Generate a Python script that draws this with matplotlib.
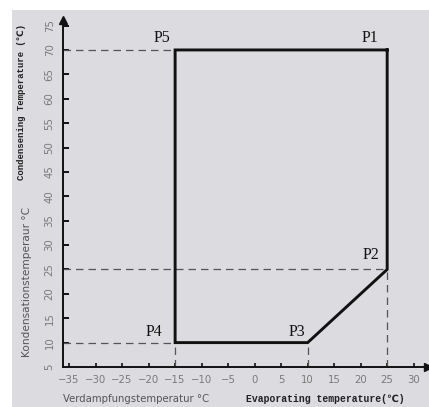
import matplotlib.pyplot as plt
from matplotlib.patches import Rectangle

# operating envelope corners
point_names = ['P1', 'P2', 'P3', 'P4', 'P5']
point_x = [25, 25, 10, -15, -15]
point_y = [70, 25, 10, 10, 70]

x_ticks = [-35, -30, -25, -20, -15, -10, -5, 0, 5, 10, 15, 20, 25, 30]
y_ticks = [5, 10, 15, 20, 25, 30, 35, 40, 45, 50, 55, 60, 65, 70, 75]

bg = '#dbdbe0'
fig = plt.figure(figsize=(4.29, 4.07), dpi=100)
fig.patch.set_facecolor('white')
fig.patches.append(Rectangle((12 / 429, 0), 1, 1 - 10 / 407, transform=fig.transFigure,
                             facecolor=bg, edgecolor='none', zorder=-10))

ax = fig.add_axes([63 / 429, 40 / 407, 365 / 429, 347 / 407])
ax.set_facecolor(bg)
ax.set_xlim(-36.15, 32.7)
ax.set_ylim(5, 76.14)
x0, x1 = ax.get_xlim()
y0, y1 = ax.get_ylim()

for s in ['top', 'right']:
    ax.spines[s].set_visible(False)
for s in ['left', 'bottom']:
    ax.spines[s].set_linewidth(1.4)
    ax.spines[s].set_color('#111111')

# arrow heads on the axes
ax.plot(1, 0, '>', color='#111111', markersize=6, transform=ax.transAxes, clip_on=False)
ax.plot(0, 1, '^', color='#111111', markersize=6, transform=ax.transAxes, clip_on=False)

ax.set_xticks(x_ticks)
ax.set_xticklabels(['\u2212%d' % -v if v < 0 else str(v) for v in x_ticks])
ax.set_yticks(y_ticks)
ax.set_yticklabels([str(v) for v in y_ticks], rotation=90, va='center')
ax.tick_params(axis='x', direction='in', length=3, width=1.2, colors='#111111',
               labelcolor='#7a7a7a', labelsize=7.3, pad=6)
ax.tick_params(axis='y', direction='in', length=4, width=1.4, colors='#111111',
               labelcolor='#7a7a7a', labelsize=7.3, pad=6)
ax.yaxis.get_major_ticks()[0].tick1line.set_visible(False)

# dashed guide lines
dash = dict(color='#555555', lw=0.9, ls=(0, (6, 4)))
for name, px, py in zip(point_names, point_x, point_y):
    if name in ('P5', 'P2', 'P4'):
        ax.plot([x0, px], [py, py], **dash)
    if name in ('P2', 'P3', 'P4'):
        ax.plot([px, px], [y0, py], **dash)

# envelope
ax.plot(point_x + point_x[:1], point_y + point_y[:1], color='#111111', lw=2.1,
        solid_joinstyle='miter', zorder=5)

offsets = {'P1': (-17, 12), 'P2': (-16, 14), 'P3': (-11, 11), 'P4': (-21, 11), 'P5': (-13, 12)}
for name, px, py in zip(point_names, point_x, point_y):
    ax.annotate(name, (px, py), xytext=offsets[name], textcoords='offset pixels',
                ha='center', va='center', fontsize=11.5, family='Liberation Serif',
                color='#111111')

mono = ['Liberation Mono', 'DejaVu Sans']
fig.text(22 / 429, 1 - 102 / 407, 'Condensening Temperature (\u2103)', rotation=90,
         ha='center', va='center', fontsize=6.5, fontweight='bold', family=mono, color='#222222')
fig.text(27 / 429, 1 - 282 / 407, 'Kondensationstemperaur \u00b0C', rotation=90,
         ha='center', va='center', fontsize=7.6, family='DejaVu Sans', color='#555555')
fig.text(136 / 429, 1 - 399 / 407, 'Verdampfungstemperatur \u00b0C',
         ha='center', va='center', fontsize=7.3, family='DejaVu Sans', color='#555555')
fig.text(325 / 429, 1 - 399 / 407, 'Evaporating temperature(\u2103)',
         ha='center', va='center', fontsize=7.0, fontweight='bold', family=mono, color='#222222')

fig.savefig('out.png', dpi=100, facecolor=fig.get_facecolor())
